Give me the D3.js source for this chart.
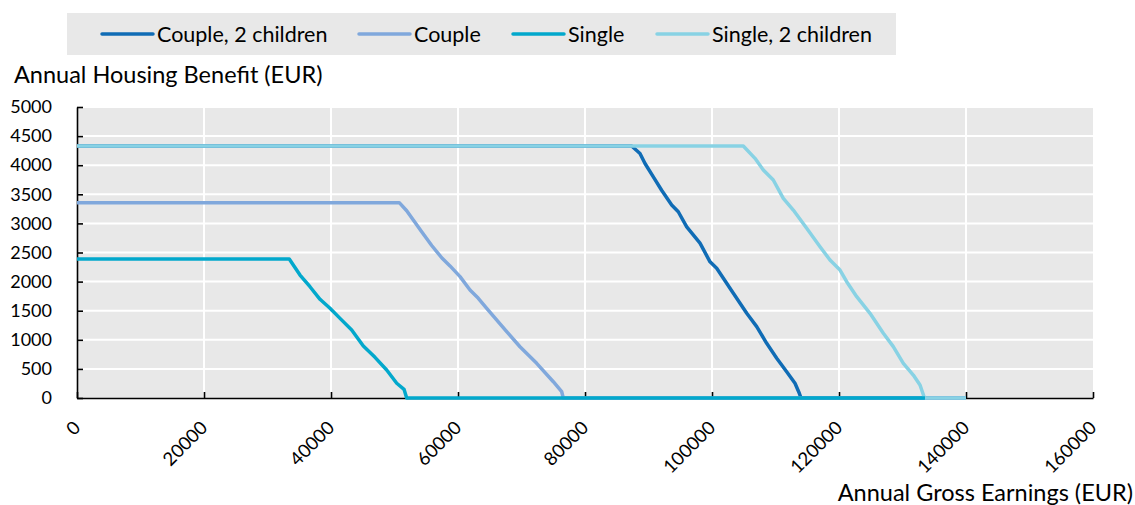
<!DOCTYPE html>
<html>
<head>
<meta charset="utf-8">
<script src="https://cdn.jsdelivr.net/npm/d3@7"></script>
<style>
  html, body { margin: 0; padding: 0; background: #ffffff; }
  svg { display: block; }
  text { font-family: Lato, "Open Sans", sans-serif; fill: #000; }
</style>
</head>
<body>
<svg id="chart" width="1135" height="505"></svg>
<script>
// ---------- data ----------
const seriesNames = ["Couple, 2 children", "Couple", "Single", "Single, 2 children"];

const coupleTwoChildrenX = [0, 87350, 88660, 89450, 90760, 92070, 93650, 94690, 96020, 98110, 99690, 100740, 103360, 105470, 107040, 108610, 110190, 111760, 113070, 113750, 114020, 140000];
const coupleTwoChildrenY = [4330, 4330, 4200, 4030, 3800, 3570, 3316, 3200, 2940, 2660, 2340, 2230, 1800, 1455, 1226, 940, 682, 452, 253, 81, 0, 0];

const coupleX = [0, 50750, 51920, 52960, 54280, 55860, 57430, 58740, 60320, 61890, 63200, 64520, 67670, 69760, 72390, 75010, 76330, 76580, 140000];
const coupleY = [3356, 3356, 3218, 3058, 2857, 2620, 2410, 2270, 2085, 1856, 1713, 1541, 1139, 881, 596, 280, 108, 0, 0];

const singleX = [0, 33430, 34060, 35120, 36690, 38270, 39840, 41420, 43260, 45090, 46930, 48770, 50350, 51500, 51920, 133540];
const singleY = [2388, 2388, 2285, 2113, 1912, 1696, 1541, 1368, 1168, 893, 699, 481, 253, 149, 0, 0];

const singleTwoChildrenX = [0, 104930, 106770, 108080, 109650, 111230, 112800, 114910, 117010, 118580, 120160, 121210, 122790, 124880, 126980, 128550, 130130, 131700, 132760, 133390, 133540, 140000];
const singleTwoChildrenY = [4330, 4330, 4118, 3918, 3746, 3431, 3230, 2916, 2600, 2371, 2199, 1998, 1741, 1455, 1112, 882, 596, 395, 223, 22, 0, 0];

const xTicks = [0, 20000, 40000, 60000, 80000, 100000, 120000, 140000, 160000];
const yTicks = [0, 500, 1000, 1500, 2000, 2500, 3000, 3500, 4000, 4500, 5000];

const yTitle = "Annual Housing Benefit (EUR)";
const xTitle = "Annual Gross Earnings (EUR)";

// ---------- layout / style ----------
const colors = {
  "Couple, 2 children": "#106cb5",
  "Couple": "#80a8dc",
  "Single": "#02a8cc",
  "Single, 2 children": "#88d2e4"
};
const plot = { left: 77, right: 1093, top: 107, bottom: 398 };
const legendBox = { x: 67, y: 13, w: 829, h: 42 };
const legendStarts = [102, 359, 513, 657];
const sampleLen = 51;

const svg = d3.select("#chart");

const x = d3.scaleLinear().domain([0, 160000]).range([plot.left, plot.right]);
const y = d3.scaleLinear().domain([0, 5000]).range([plot.bottom, plot.top]);

// plot background
svg.append("rect")
  .attr("x", plot.left).attr("y", plot.top)
  .attr("width", plot.right - plot.left).attr("height", plot.bottom - plot.top)
  .attr("fill", "#e8e8e8");

// gridlines
svg.append("g").selectAll("line").data(yTicks.filter(d => d > 0)).join("line")
  .attr("x1", plot.left).attr("x2", plot.right)
  .attr("y1", d => y(d)).attr("y2", d => y(d))
  .attr("stroke", "#ffffff").attr("stroke-width", 2);
svg.append("g").selectAll("line").data(xTicks.filter(d => d > 0 && d < 160000)).join("line")
  .attr("y1", plot.top).attr("y2", plot.bottom)
  .attr("x1", d => x(d)).attr("x2", d => x(d))
  .attr("stroke", "#ffffff").attr("stroke-width", 2);

// series
const series = [
  { name: "Couple, 2 children", xs: coupleTwoChildrenX, ys: coupleTwoChildrenY },
  { name: "Couple", xs: coupleX, ys: coupleY },
  { name: "Single, 2 children", xs: singleTwoChildrenX, ys: singleTwoChildrenY },
  { name: "Single", xs: singleX, ys: singleY }
];
const line = d3.line().x(d => x(d[0])).y(d => y(d[1]));

// axes (drawn before lines so lines sit over the axis line)
const xAxis = d3.axisBottom(x).tickValues(xTicks).tickFormat(d3.format("d"))
  .tickSize(-6).tickSizeOuter(0);
const gx = svg.append("g").attr("transform", `translate(0,${plot.bottom})`).call(xAxis);
gx.select(".domain").attr("stroke", "#000").attr("stroke-width", 1.6);
gx.selectAll(".tick line").attr("stroke", "#000").attr("stroke-width", 1.6);
gx.selectAll(".tick text")
  .attr("y", 0).attr("dy", 0)
  .attr("text-anchor", "end")
  .attr("transform", "translate(4,31) rotate(-45)")
  .style("font-size", "18.5px").style("font-family", "Lato, sans-serif").attr("fill", "#000");

const yAxis = d3.axisLeft(y).tickValues(yTicks).tickFormat(d3.format("d"))
  .tickSize(-6).tickSizeOuter(0).tickPadding(25);
const gy = svg.append("g").attr("transform", `translate(${plot.left},0)`).call(yAxis);
gy.select(".domain").attr("stroke", "#000").attr("stroke-width", 1.6);
gy.selectAll(".tick line").attr("stroke", "#000").attr("stroke-width", 1.6);
gy.selectAll(".tick text")
  .style("font-size", "18px").style("font-family", "Lato, sans-serif").attr("fill", "#000");

svg.append("g").selectAll("path").data(series).join("path")
  .attr("d", s => line(s.xs.map((v, i) => [v, s.ys[i]])))
  .attr("fill", "none")
  .attr("stroke", s => colors[s.name])
  .attr("stroke-width", 3.5)
  .attr("stroke-linejoin", "round");

// titles
svg.append("text").attr("x", 14).attr("y", 83)
  .style("font-size", "23.5px").text(yTitle);
svg.append("text").attr("x", 1133).attr("y", 501).attr("text-anchor", "end")
  .style("font-size", "23.5px").text(xTitle);

// legend
svg.append("rect")
  .attr("x", legendBox.x).attr("y", legendBox.y)
  .attr("width", legendBox.w).attr("height", legendBox.h)
  .attr("fill", "#e8e8e8");
const lg = svg.append("g").selectAll("g").data(seriesNames).join("g")
  .attr("transform", (d, i) => `translate(${legendStarts[i]},${legendBox.y + legendBox.h / 2})`);
lg.append("line").attr("x1", 0).attr("x2", sampleLen).attr("y1", 0).attr("y2", 0)
  .attr("stroke", d => colors[d]).attr("stroke-width", 3.5).attr("stroke-linecap", "round");
lg.append("text").attr("x", sampleLen + 4).attr("y", 0).attr("dy", "0.35em")
  .style("font-size", "21.5px").text(d => d);
</script>
</body>
</html>
